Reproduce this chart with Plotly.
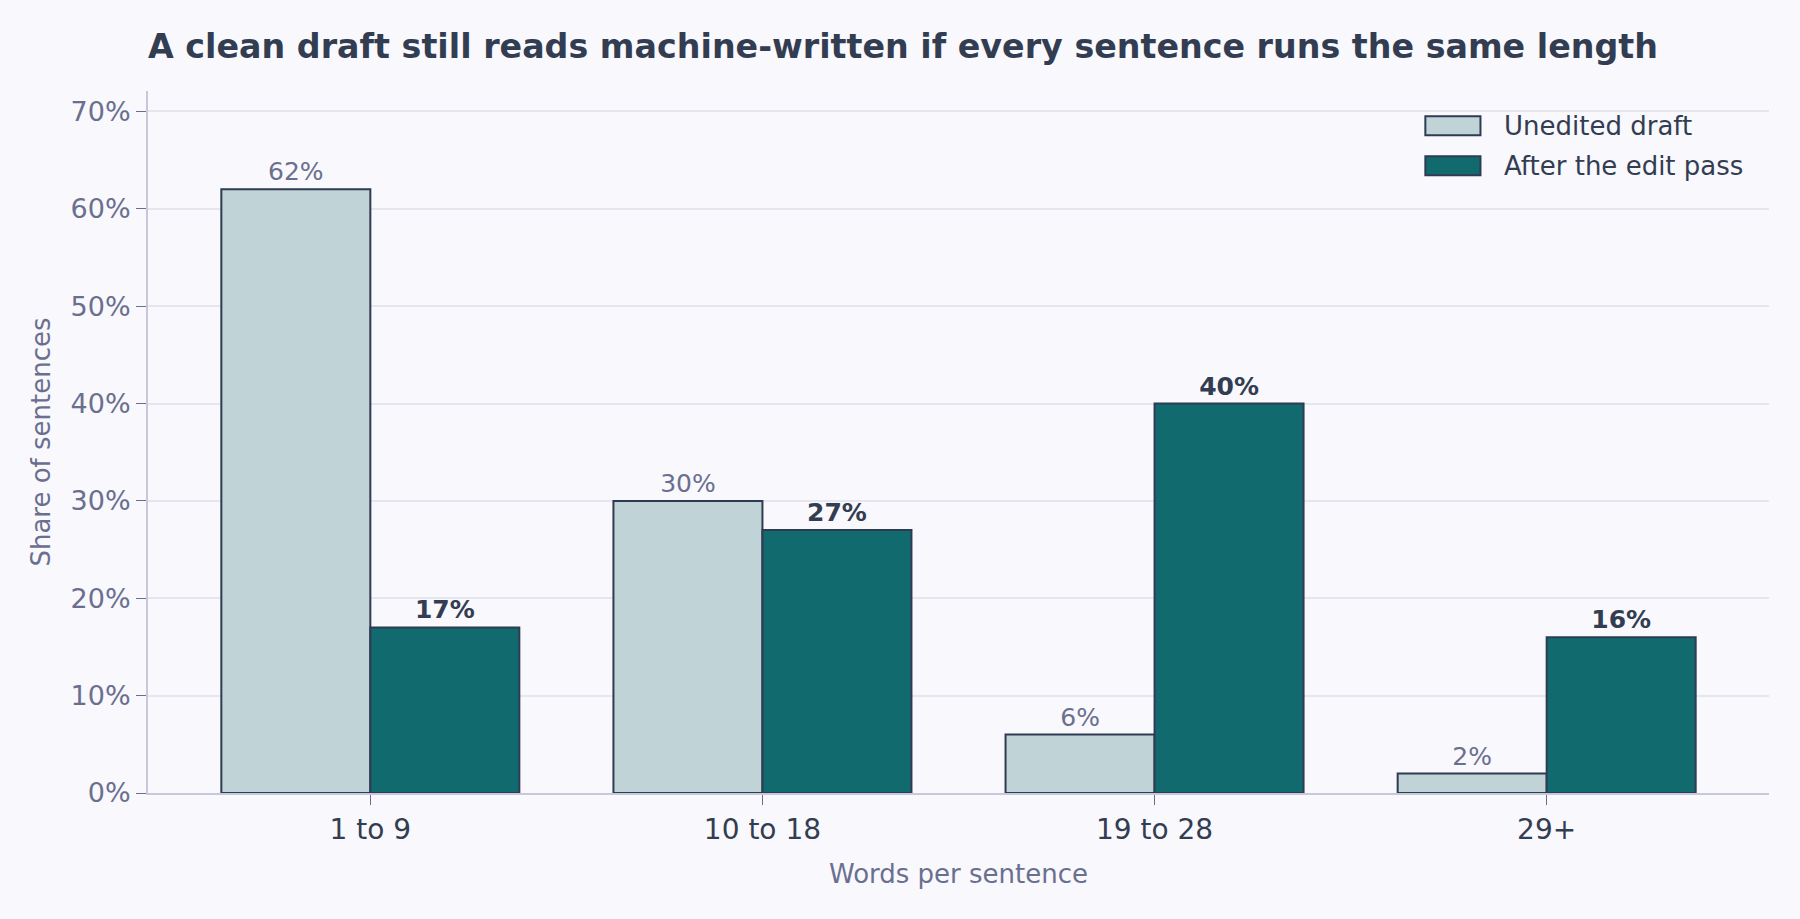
import plotly.graph_objects as go

# ==========================
# Datos
# ==========================
categorias = ["1 to 9", "10 to 18", "19 to 28", "29+"]
sin_editar = [62, 30, 6, 2]
tras_edicion = [17, 27, 40, 16]
series = ["Unedited draft", "After the edit pass"]

etiquetas_sin = [f"{v}%" for v in sin_editar]
etiquetas_tras = [f"<b>{v}%</b>" for v in tras_edicion]

# Colores
bg = "#f8f8fd"
borde = "#2f3b52"
texto = "#333d52"
gris = "#6b6f8f"
claro = "#c0d3d6"
oscuro = "#116b6e"

fig = go.Figure()

fig.add_trace(go.Bar(
    x=categorias, y=sin_editar, name=series[0],
    marker=dict(color=claro, line=dict(color=borde, width=2)),
    text=etiquetas_sin, textposition="outside", cliponaxis=False,
    textfont=dict(color=gris, size=25),
))
fig.add_trace(go.Bar(
    x=categorias, y=tras_edicion, name=series[1],
    marker=dict(color=oscuro, line=dict(color=borde, width=2)),
    text=etiquetas_tras, textposition="outside", cliponaxis=False,
    textfont=dict(color=texto, size=25),
))

# Leyenda dibujada a mano (rectángulos anchos como en el original)
leyenda_y = [(0.937, 0.964), (0.880, 0.907)]
for nombre, color, (y0, y1) in zip(series, [claro, oscuro], leyenda_y):
    fig.add_shape(type="rect", xref="paper", yref="paper",
                  x0=0.788, x1=0.822, y0=y0, y1=y1,
                  fillcolor=color, line=dict(color=borde, width=2))
    fig.add_annotation(xref="paper", yref="paper", x=0.835, y=(y0 + y1) / 2,
                       text=nombre, showarrow=False, xanchor="left", yanchor="middle",
                       font=dict(size=26, color=texto))

fig.update_layout(
    width=1800, height=919,
    paper_bgcolor=bg, plot_bgcolor=bg,
    font=dict(family="DejaVu Sans", color=texto, size=25),
    title=dict(
        text="<b>A clean draft still reads machine-written if every sentence runs the same length</b>",
        x=0, xref="paper", xanchor="left", y=0.95, yanchor="middle",
        font=dict(size=33.3, color=texto),
    ),
    margin=dict(l=148, r=31, t=91, b=126),
    barmode="group", bargap=0.24, bargroupgap=0,
    showlegend=False,
)

fig.update_xaxes(
    title=dict(text="Words per sentence", font=dict(size=26, color=gris), standoff=20),
    range=[-0.567, 3.567],
    showline=True, linecolor="#c8c8dc", linewidth=2,
    ticks="outside", ticklen=10, tickcolor=gris,
    tickfont=dict(size=28, color=texto),
    showgrid=False,
)
fig.update_yaxes(
    title=dict(text="Share of sentences", font=dict(size=26, color=gris), standoff=12),
    range=[0, 72.1], dtick=10, ticksuffix="%",
    showline=True, linecolor="#c8c8dc", linewidth=2,
    ticks="outside", ticklen=10, tickcolor=gris,
    tickfont=dict(size=27, color=gris),
    gridcolor="#e6e6ef", gridwidth=1.5, zeroline=False,
)

fig.write_html(
    "out.html",
    config={"displayModeBar": False},
    post_script="document.body.style.margin='0';document.body.style.background='%s';" % bg,
)
